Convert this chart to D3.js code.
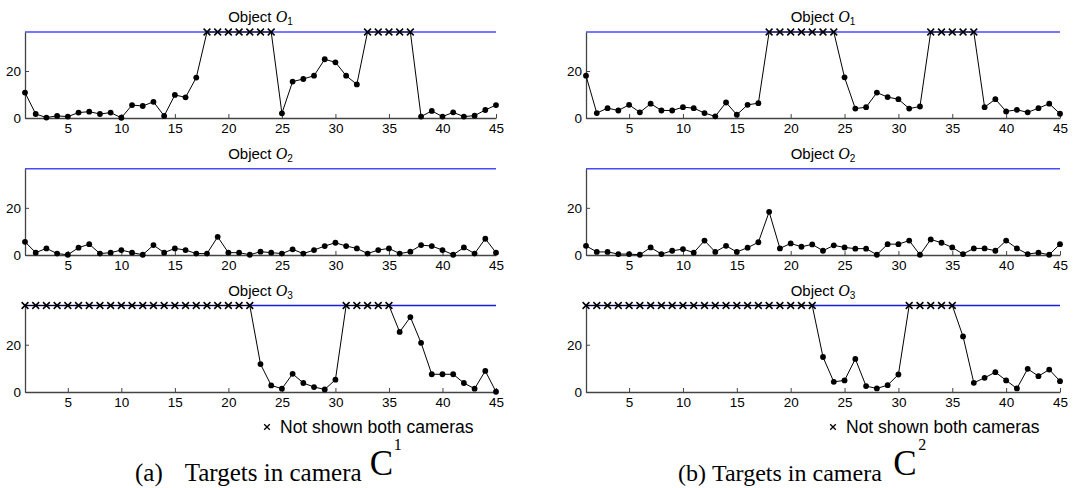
<!DOCTYPE html>
<html>
<head>
<meta charset="utf-8">
<script src="https://cdn.jsdelivr.net/npm/d3@7"></script>
<style>
  body { margin: 0; background: #fff; }
  svg { display: block; font-family: "Liberation Sans", Arial, sans-serif; }
</style>
</head>
<body>
<svg id="chart" width="1077" height="488"></svg>
<script>
// frame index on x, distance on y; null = target not shown in both cameras
const frames = d3.range(1, 46);
const xTicks = [5, 10, 15, 20, 25, 30, 35, 40, 45];
const yTicks = [0, 20];
const missLevel = 36.6;

const c1o1 = [10.8, 1.7, 0.2, 0.9, 0.6, 2.3, 2.7, 1.7, 2.3, 0.1,
  5.5, 5.1, 6.9, 0.9, 9.8, 8.8, 17.2, null, null, null,
  null, null, null, null, 2.0, 15.5, 16.6, 18.0, 25.0, 23.7,
  18.0, 14.3, null, null, null, null, null, 0.6, 3.0, 0.6,
  2.4, 0.6, 1.0, 3.4, 5.5];
const c1o2 = [5.6, 1.0, 2.8, 0.6, 0.1, 3.1, 4.6, 0.6, 1.0, 2.1,
  1.0, 0.1, 4.2, 1.0, 2.8, 2.1, 0.6, 0.6, 7.7, 1.0,
  1.0, 0.1, 1.4, 1.0, 0.6, 2.4, 0.6, 2.1, 3.8, 5.2,
  3.8, 2.8, 0.6, 2.1, 2.8, 0.6, 1.4, 4.2, 3.8, 2.1,
  0.1, 3.2, 0.6, 6.9, 1.0];
const c1o3 = [null, null, null, null, null, null, null, null, null, null,
  null, null, null, null, null, null, null, null, null, null,
  null, null, 11.8, 2.8, 1.4, 7.7, 3.8, 2.1, 1.1, 5.2,
  null, null, null, null, null, 25.4, 31.7, 20.8, 7.5, 7.5,
  7.5, 3.8, 1.4, 8.9, 0.1];

const c2o1 = [18.0, 2.1, 4.2, 3.2, 5.6, 2.4, 6.1, 3.2, 3.2, 4.6,
  4.2, 2.1, 0.7, 6.6, 1.4, 5.6, 6.3, null, null, null,
  null, null, null, null, 17.3, 4.0, 4.6, 10.8, 8.9, 8.0,
  4.0, 4.9, null, null, null, null, null, 4.6, 8.0, 2.8,
  3.5, 2.4, 4.2, 6.1, 1.8];
const c2o2 = [3.9, 1.3, 1.3, 0.4, 0.4, 0.1, 3.2, 0.4, 1.8, 2.5,
  1.0, 6.1, 1.3, 3.9, 1.3, 3.1, 5.4, 18.3, 2.8, 4.9,
  3.5, 4.5, 1.8, 4.1, 3.2, 2.7, 2.7, 0.1, 4.6, 4.6,
  6.1, 0.1, 6.6, 5.2, 3.2, 0.4, 2.8, 2.8, 1.8, 6.1,
  2.8, 0.4, 1.0, 0.1, 4.6];
const c2o3 = [null, null, null, null, null, null, null, null, null, null,
  null, null, null, null, null, null, null, null, null, null,
  null, null, 14.8, 4.3, 4.9, 14.0, 2.5, 1.5, 2.9, 7.4,
  null, null, null, null, null, 23.5, 3.9, 6.0, 8.4, 4.9,
  1.5, 9.8, 6.7, 9.5, 4.6];

const objectNames = ["1", "2", "3"];
const cameraSeries = [[c1o1, c1o2, c1o3], [c2o1, c2o2, c2o3]];
const captionLabels = ["(a)", "(b)"];
const captionText = "Targets in camera";
const captionSups = ["1", "2"];
const legendText = "Not shown both cameras";

const svg = d3.select("#chart");

const cols = [{ x0: 25, x1: 496 }, { x0: 586, x1: 1060 }];
const rows = [{ zero: 118, top: 32 }, { zero: 255, top: 168.7 }, { zero: 392, top: 305.5 }];
const lineColors = ["#4848ff", "#4848ff", "#1c1cdc"];

const cross = "M-3.4,-3.4L3.4,3.4M-3.4,3.4L3.4,-3.4";

function drawPanel(data, obj, col, row, color) {
  const x = d3.scaleLinear().domain([1, 45]).range([col.x0, col.x1]);
  const y = d3.scaleLinear().domain([0, missLevel]).range([row.zero, row.top]);
  const g = svg.append("g");

  // upper limit line
  g.append("line")
    .attr("x1", x(1)).attr("x2", x(45))
    .attr("y1", y(missLevel)).attr("y2", y(missLevel))
    .attr("stroke", color)
    .attr("stroke-width", 1.4);

  const xAxis = g.append("g")
    .attr("transform", `translate(0,${row.zero})`)
    .call(d3.axisBottom(x).tickValues(xTicks).tickSizeInner(-4).tickSizeOuter(0).tickPadding(5));
  const yAxis = g.append("g")
    .attr("transform", `translate(${col.x0},0)`)
    .call(d3.axisLeft(y).tickValues(yTicks).tickSizeInner(-4).tickSizeOuter(0).tickPadding(4));

  [xAxis, yAxis].forEach(a => {
    a.select(".domain").attr("stroke", "#444").attr("stroke-width", 1.3);
    a.selectAll(".tick line").attr("stroke", "#444");
    a.selectAll(".tick text")
      .attr("fill", "#000")
      .style("font-family", "'Liberation Sans', Arial, sans-serif")
      .style("font-size", "13.5px");
  });

  const pts = frames.map((f, i) => ({ f, v: data[i], miss: data[i] === null }));

  g.append("path")
    .datum(pts)
    .attr("fill", "none")
    .attr("stroke", "#000")
    .attr("stroke-width", 1)
    .attr("d", d3.line()
      .x(d => x(d.f))
      .y(d => y(d.miss ? missLevel : d.v)));

  g.selectAll(".dot")
    .data(pts.filter(d => !d.miss))
    .enter()
    .append("circle")
    .attr("cx", d => x(d.f))
    .attr("cy", d => y(d.v))
    .attr("r", 2.9)
    .attr("fill", "#000");

  g.selectAll(".cross")
    .data(pts.filter(d => d.miss))
    .enter()
    .append("path")
    .attr("d", cross)
    .attr("transform", d => `translate(${x(d.f)},${y(missLevel)})`)
    .attr("stroke", "#000")
    .attr("stroke-width", 1.5);

  const t = g.append("text")
    .attr("x", (col.x0 + col.x1) / 2)
    .attr("y", row.top - 10)
    .attr("text-anchor", "middle")
    .style("font-size", "15px");
  t.append("tspan").text("Object ");
  t.append("tspan")
    .style("font-family", "'Liberation Serif', 'Times New Roman', serif")
    .style("font-style", "italic")
    .style("font-size", "16px")
    .text("O");
  t.append("tspan")
    .attr("dy", 3)
    .style("font-size", "10px")
    .text(obj);
}

cameraSeries.forEach((series, ci) => {
  series.forEach((data, ri) => drawPanel(data, objectNames[ri], cols[ci], rows[ri], lineColors[ri]));

  const col = cols[ci];
  // legend note
  const lg = svg.append("g").attr("transform", `translate(${col.x1 - (ci === 0 ? 229 : 227)},427)`);
  lg.append("path")
    .attr("d", "M-2.8,-2.8L2.8,2.8M-2.8,2.8L2.8,-2.8")
    .attr("stroke", "#000")
    .attr("stroke-width", 1.3);
  lg.append("text")
    .attr("x", 13)
    .attr("y", 6)
    .style("font-size", "17.5px")
    .text(legendText);
});

// captions
const capPos = [
  { x: 135, gap: 22, size: 25, cx: 8, supDx: 32 },
  { x: 678, gap: 6, size: 24, cx: 11, supDx: 36 }
];
captionLabels.forEach((label, i) => {
  const p = capPos[i];
  const g = svg.append("g")
    .style("font-family", "'Liberation Serif', 'Times New Roman', serif");
  const t = g.append("text")
    .attr("x", p.x)
    .attr("y", 481)
    .style("font-size", p.size + "px");
  t.append("tspan").text(label);
  t.append("tspan").attr("dx", p.gap).text(captionText);
  const tb = t.node().getBBox();
  g.append("text")
    .attr("x", tb.x + tb.width + p.cx)
    .attr("y", 475)
    .style("font-size", "35px")
    .text("C");
  g.append("text")
    .attr("x", tb.x + tb.width + p.supDx)
    .attr("y", 450)
    .style("font-size", "16px")
    .text(captionSups[i]);
});
</script>
</body>
</html>
